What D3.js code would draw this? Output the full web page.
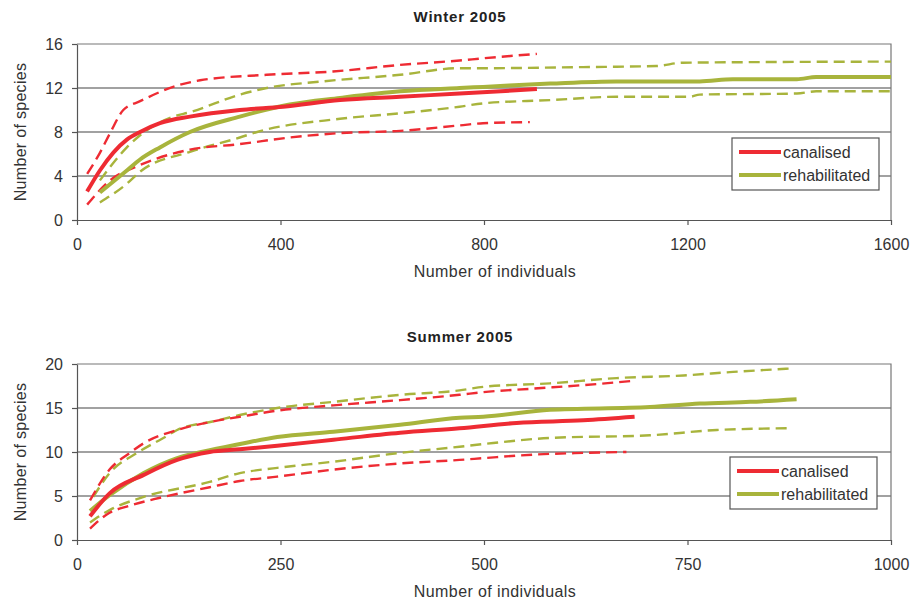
<!DOCTYPE html>
<html>
<head>
<meta charset="utf-8">
<script src="https://cdn.jsdelivr.net/npm/d3@7"></script>
<style>
  body { margin: 0; background: #fff; }
  svg { font-family: "Liberation Sans", Arial, sans-serif; }
</style>
</head>
<body>
<div id="chart"></div>
<script>
// Winter 2005 — rarefaction curves [individuals, species]
var winterCanalMean  = [[20,2.6],[45,4.5],[98,7.3],[124,8.0],[163,8.8],[222,9.4],[320,10.0],[405,10.3],[517,10.9],[635,11.2],[752,11.5],[904,11.9]];
var winterCanalUpper = [[20,4.2],[45,6.1],[65,7.9],[91,10],[124,10.8],[189,12.1],[242,12.7],[373,13.2],[503,13.5],[635,14.1],[752,14.5],[798,14.7],[904,15.1]];
var winterCanalLower = [[20,1.4],[65,3.6],[124,5.0],[222,6.4],[320,6.9],[418,7.5],[517,7.9],[635,8.1],[752,8.6],[798,8.8],[890,8.9]];
var winterRehabMean  = [[45,2.5],[98,4.5],[124,5.5],[163,6.6],[222,8.0],[320,9.4],[418,10.5],[517,11.1],[635,11.7],[752,12.0],[798,12.1],[930,12.4],[1060,12.6],[1224,12.6],[1289,12.8],[1415,12.8],[1453,13.0],[1600,13.0]];
var winterRehabUpper = [[45,3.6],[98,6.6],[124,7.7],[189,9.4],[222,9.8],[320,11.4],[373,12.0],[483,12.6],[635,13.2],[752,13.8],[798,13.8],[995,13.9],[1139,14.0],[1191,14.3],[1600,14.4]];
var winterRehabLower = [[45,1.6],[98,3.3],[124,4.4],[222,6.2],[320,7.5],[354,8.0],[517,9.2],[635,9.7],[752,10.3],[798,10.6],[930,10.9],[1060,11.2],[1204,11.2],[1224,11.4],[1415,11.5],[1453,11.7],[1600,11.7]];

// Summer 2005
var summerCanalMean  = [[16,2.7],[40,5.3],[82,7.4],[123,9.1],[163,10.0],[200,10.3],[246,10.7],[315,11.4],[397,12.2],[470,12.7],[540,13.3],[622,13.6],[685,14.0]];
var summerCanalUpper = [[16,4.5],[40,8.0],[65,9.9],[82,11.0],[123,12.5],[163,13.4],[200,14.0],[246,14.7],[315,15.3],[397,15.9],[470,16.5],[499,16.8],[560,17.2],[622,17.6],[685,18.1]];
var summerCanalLower = [[16,1.3],[40,3.1],[61,3.8],[102,4.8],[163,6.0],[200,6.7],[246,7.2],[315,8.0],[397,8.7],[470,9.1],[499,9.3],[560,9.7],[622,9.9],[675,10.0]];
var summerRehabMean  = [[16,3.3],[40,5.1],[82,7.6],[123,9.3],[163,10.2],[205,11.0],[246,11.7],[315,12.3],[397,13.1],[470,13.9],[499,14.0],[581,14.8],[704,15.1],[765,15.5],[827,15.7],[884,16.0]];
var summerRehabUpper = [[20,4.9],[40,7.6],[74,9.9],[110,11.8],[123,12.5],[168,13.5],[200,14.2],[246,15.0],[315,15.7],[397,16.5],[470,17.0],[499,17.4],[581,17.8],[663,18.4],[745,18.7],[806,19.1],[880,19.5]];
var summerRehabLower = [[16,2.0],[40,3.4],[82,4.9],[163,6.6],[200,7.6],[246,8.2],[315,8.9],[397,9.9],[470,10.6],[499,10.9],[581,11.6],[704,11.9],[786,12.5],[876,12.7]];

var winterXTicks = [0, 400, 800, 1200, 1600];
var winterYTicks = [0, 4, 8, 12, 16];
var summerXTicks = [0, 250, 500, 750, 1000];
var summerYTicks = [0, 5, 10, 15, 20];
var seriesNames = ["canalised", "rehabilitated"];

var RED = "#ee2b33", GREEN = "#a8b43c";

var svg = d3.select("#chart").append("svg")
  .attr("width", 912).attr("height", 603);

function drawPanel(cfg) {
  var x = d3.scaleLinear().domain([0, cfg.xMax]).range([77, 891]);
  var y = d3.scaleLinear().domain([0, cfg.yMax]).range([cfg.bottom, cfg.top]);
  var g = svg.append("g");

  // title
  g.append("text")
    .attr("x", 460).attr("y", cfg.top - 22)
    .attr("text-anchor", "middle")
    .style("font-weight", "bold").style("font-size", "15px").style("fill", "#222")
    .style("letter-spacing", "0.8px")
    .text(cfg.title);

  // gridlines
  g.selectAll(".grid").data(cfg.yTicks.filter(function(d){ return d > 0 && d < cfg.yMax; }))
    .enter().append("line")
    .attr("x1", x(0)).attr("x2", x(cfg.xMax))
    .attr("y1", function(d){ return y(d); }).attr("y2", function(d){ return y(d); })
    .attr("stroke", "#444").attr("stroke-width", 1.2);

  // plot frame (top and right)
  g.append("path")
    .attr("d", "M" + x(0) + "," + y(cfg.yMax) + "H" + x(cfg.xMax) + "V" + y(0))
    .attr("fill", "none").attr("stroke", "#777").attr("stroke-width", 1.2);

  var xAxis = g.append("g")
    .attr("transform", "translate(0," + y(0) + ")")
    .call(d3.axisBottom(x).tickValues(cfg.xTicks).tickFormat(d3.format("d"))
      .tickSize(5).tickSizeOuter(0).tickPadding(14));
  var yAxis = g.append("g")
    .attr("transform", "translate(" + x(0) + ",0)")
    .call(d3.axisLeft(y).tickValues(cfg.yTicks).tickFormat(d3.format("d"))
      .tickSize(5).tickSizeOuter(0).tickPadding(9));
  [xAxis, yAxis].forEach(function(a){
    a.select(".domain").attr("stroke", "#555").attr("stroke-width", 1.2);
    a.selectAll(".tick line").attr("stroke", "#555").attr("stroke-width", 1.2);
    a.selectAll("text").style("font-size", "16px").style("fill", "#333")
      .style("font-family", "Liberation Sans, Arial, sans-serif");
  });

  // axis labels
  g.append("text")
    .attr("x", 495).attr("y", cfg.bottom + 57)
    .attr("text-anchor", "middle")
    .style("font-size", "16px").style("fill", "#333").style("letter-spacing", "0.4px")
    .text("Number of individuals");
  g.append("text")
    .attr("transform", "translate(26," + ((cfg.top + cfg.bottom) / 2) + ") rotate(-90)")
    .attr("text-anchor", "middle")
    .style("font-size", "16px").style("fill", "#333").style("letter-spacing", "0.3px")
    .text("Number of species");

  var line = d3.line()
    .x(function(d){ return x(d[0]); })
    .y(function(d){ return y(d[1]); })
    .curve(d3.curveMonotoneX);

  var series = [
    { data: cfg.rehabLower, color: GREEN, dash: true },
    { data: cfg.rehabUpper, color: GREEN, dash: true },
    { data: cfg.canalLower, color: RED, dash: true },
    { data: cfg.canalUpper, color: RED, dash: true },
    { data: cfg.rehabMean, color: GREEN, dash: false },
    { data: cfg.canalMean, color: RED, dash: false }
  ];
  series.forEach(function(s){
    g.append("path")
      .datum(s.data)
      .attr("d", line)
      .attr("fill", "none")
      .attr("stroke", s.color)
      .attr("stroke-width", s.dash ? 2.4 : 4)
      .attr("stroke-dasharray", s.dash ? "11,6" : null);
  });

  // legend
  var lg = g.append("g").attr("transform", "translate(" + cfg.legX + "," + cfg.legY + ")");
  lg.append("rect")
    .attr("width", 147).attr("height", 52)
    .attr("fill", "#fff").attr("stroke", "#555").attr("stroke-width", 1.2);
  seriesNames.forEach(function(name, i){
    var cy = 14 + i * 23;
    lg.append("line")
      .attr("x1", 7).attr("x2", 49).attr("y1", cy).attr("y2", cy)
      .attr("stroke", i === 0 ? RED : GREEN).attr("stroke-width", 4);
    lg.append("text")
      .attr("x", 51).attr("y", cy + 6)
      .style("font-size", "16px").style("fill", "#333")
      .text(name);
  });
}

drawPanel({
  title: "Winter 2005", xMax: 1600, yMax: 16, top: 44, bottom: 220,
  xTicks: winterXTicks, yTicks: winterYTicks,
  canalMean: winterCanalMean, canalUpper: winterCanalUpper, canalLower: winterCanalLower,
  rehabMean: winterRehabMean, rehabUpper: winterRehabUpper, rehabLower: winterRehabLower,
  legX: 732, legY: 138
});

drawPanel({
  title: "Summer 2005", xMax: 1000, yMax: 20, top: 364, bottom: 540,
  xTicks: summerXTicks, yTicks: summerYTicks,
  canalMean: summerCanalMean, canalUpper: summerCanalUpper, canalLower: summerCanalLower,
  rehabMean: summerRehabMean, rehabUpper: summerRehabUpper, rehabLower: summerRehabLower,
  legX: 730, legY: 457
});
</script>
</body>
</html>
